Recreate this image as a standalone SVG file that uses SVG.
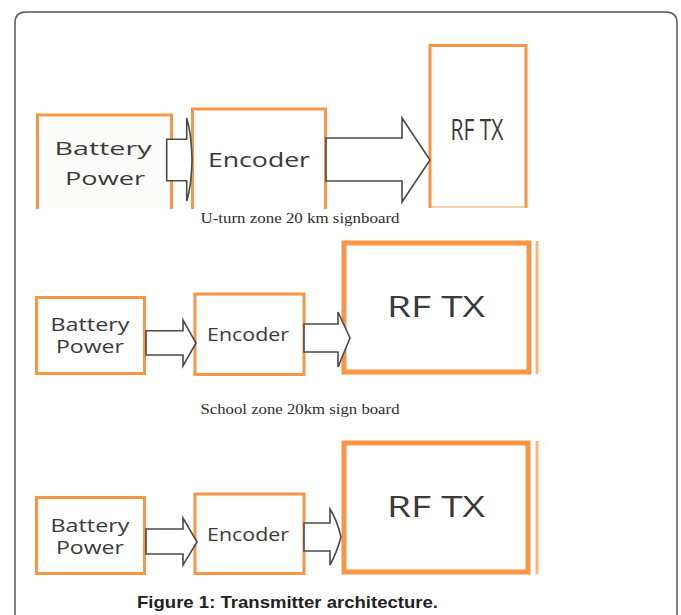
<svg xmlns="http://www.w3.org/2000/svg" width="681" height="615" viewBox="0 0 681 615">
<style>
.frame{fill:#fff;stroke:#555;stroke-width:1.5}
.ob{fill:#fff;stroke:#f79646;stroke-width:3}
.obt{fill:#fff;stroke:#f79646;stroke-width:5}
.oline{fill:none;stroke:#f79646;stroke-width:3}
.arr{fill:#fff;stroke:#4a4a4a;stroke-width:1.6;stroke-linejoin:miter}
.lbl{font-family:"Open Sans","Liberation Sans",sans-serif;fill:#3a3a3a;text-anchor:middle}
.cap{font-family:"Liberation Serif",serif;fill:#2e2e2e;text-anchor:middle;font-size:14px}
.fig{font-family:"Liberation Sans",sans-serif;font-weight:bold;fill:#222;font-size:17px;text-anchor:middle}
</style>
<rect width="681" height="615" fill="#fff"/>
<path class="frame" d="M15,640 V23 Q15,12 26,12 H666 Q677,12 677,23 V640"/>

<!-- Row 1 -->
<g id="battery1">
  <rect x="37.5" y="115" width="134" height="93" fill="#fcfdfb"/>
  <path class="oline" d="M37.5,209 V115 H171.5 V209"/>
  <text class="lbl" x="103" y="155" font-size="19" textLength="97" lengthAdjust="spacingAndGlyphs">Battery</text>
  <text class="lbl" x="105" y="185" font-size="19" textLength="80" lengthAdjust="spacingAndGlyphs">Power</text>
</g>
<g id="encoder1">
  <rect x="192.5" y="109" width="133" height="99" fill="#fff"/>
  <path class="oline" d="M192.5,209 V109 H325.5 V209"/>
  <text class="lbl" x="259" y="167" font-size="20" textLength="102" lengthAdjust="spacingAndGlyphs">Encoder</text>
</g>
<g id="rftx1">
  <rect x="430" y="45" width="96" height="162" fill="#fff"/>
  <path class="oline" d="M430,208 V45.5 H526 V208"/>
  <line x1="430" y1="207" x2="526" y2="207" stroke="#f79646" stroke-width="1.5" opacity="0.6"/>
  <text class="lbl" x="477" y="140" font-size="30" textLength="53" lengthAdjust="spacingAndGlyphs">RF TX</text>
</g>
<text id="cap1" class="cap" x="300" y="223" textLength="199" lengthAdjust="spacingAndGlyphs">U-turn zone 20 km signboard</text>

<!-- Row 2 -->
<g id="battery2">
  <rect class="ob" x="36.5" y="297.5" width="108" height="76"/>
  <text class="lbl" x="90" y="331" font-size="17.5" textLength="79" lengthAdjust="spacingAndGlyphs">Battery</text>
  <text class="lbl" x="90" y="353" font-size="17.5" textLength="68" lengthAdjust="spacingAndGlyphs">Power</text>
</g>
<g id="encoder2">
  <rect class="ob" x="195" y="294" width="109" height="80.5"/>
  <text class="lbl" x="248" y="341" font-size="18" textLength="82" lengthAdjust="spacingAndGlyphs">Encoder</text>
</g>
<g id="rftx2">
  <rect class="obt" x="344" y="243" width="185" height="129"/>
  <line x1="537" y1="241" x2="537" y2="374" stroke="#f79646" stroke-width="3" opacity="0.7"/>
  <text class="lbl" x="436" y="317" font-size="29.5" textLength="98" lengthAdjust="spacingAndGlyphs">RF TX</text>
</g>
<text id="cap2" class="cap" x="300" y="414" textLength="199" lengthAdjust="spacingAndGlyphs">School zone 20km sign board</text>

<!-- Row 3 -->
<g id="battery3">
  <rect class="ob" x="36.5" y="497.5" width="108" height="76"/>
  <text class="lbl" x="90" y="532" font-size="17.5" textLength="79" lengthAdjust="spacingAndGlyphs">Battery</text>
  <text class="lbl" x="90" y="554" font-size="17.5" textLength="68" lengthAdjust="spacingAndGlyphs">Power</text>
</g>
<g id="encoder3">
  <rect class="ob" x="195" y="494" width="109" height="79.5"/>
  <text class="lbl" x="248" y="541" font-size="18" textLength="82" lengthAdjust="spacingAndGlyphs">Encoder</text>
</g>
<g id="rftx3">
  <rect class="obt" x="344" y="443" width="184" height="129"/>
  <line x1="537" y1="441" x2="537" y2="574" stroke="#f79646" stroke-width="3" opacity="0.7"/>
  <text class="lbl" x="436" y="517" font-size="29.5" textLength="98" lengthAdjust="spacingAndGlyphs">RF TX</text>
</g>
<text id="fig" class="fig" x="287.5" y="608" textLength="301" lengthAdjust="spacingAndGlyphs">Figure 1: Transmitter architecture.</text>

<g id="connectors">
  <path id="r1a1" class="arr" d="M166.7,139.3 H186.7 V118 Q191.5,134 192,160 Q191.5,186 186.7,201 V180.7 H166.7 Z"/>
  <path id="r1a2" class="arr" d="M326,138 H402 V118 L430,160 L402,202 V181 H326 Z"/>
  <path id="r2a1" class="arr" d="M146,330.7 H183 V320 L196,343 L183,366 V355 H146 Z"/>
  <path id="r2a2" class="arr" d="M304,324 H338 V312 L350,338 L338,367 V352 H304 Z"/>
  <path id="r3a1" class="arr" d="M146,529 H183 V518 L197,542 L183,565 V554 H146 Z"/>
  <path id="r3a2" class="arr" d="M304,523 H330 V509 Q337,520 341,537 Q337,552 330,565 V551 H304 Z"/>
</g>
</svg>
